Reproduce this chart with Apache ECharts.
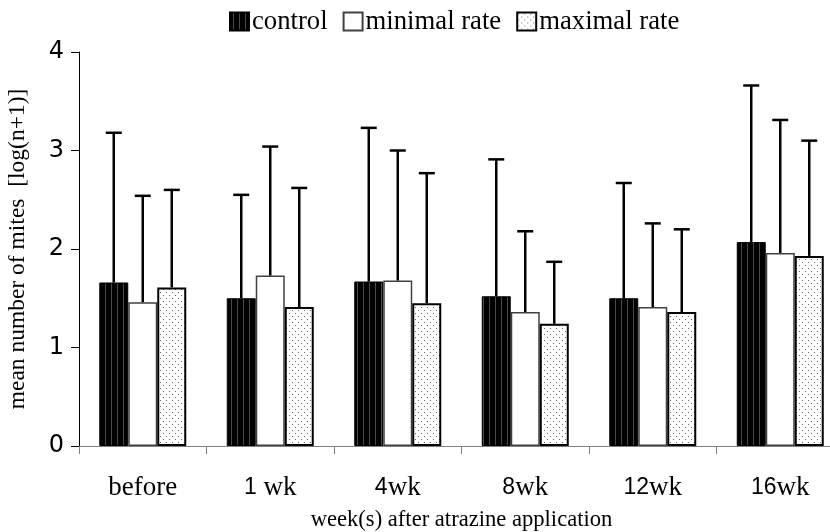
<!DOCTYPE html>
<html>
<head>
<meta charset="utf-8">
<script src="https://cdn.jsdelivr.net/npm/echarts@6/dist/echarts.min.js"></script>
<style>html,body{margin:0;padding:0;background:#fff;}#c{width:830px;height:532px;}</style>
</head>
<body>
<div id="c"></div>
<script>
var categories = ['before', '1 wk', '4wk', '8wk', '12wk', '16wk'];
var seriesNames = ['control', 'minimal rate', 'maximal rate'];
var controlMean = [1.66, 1.50, 1.67, 1.52, 1.50, 2.07];
var controlUpper = [3.18, 2.55, 3.23, 2.91, 2.67, 3.66];
var minimalMean = [1.46, 1.73, 1.68, 1.36, 1.41, 1.96];
var minimalUpper = [2.54, 3.04, 3.00, 2.18, 2.26, 3.31];
var maximalMean = [1.61, 1.41, 1.45, 1.24, 1.36, 1.93];
var maximalUpper = [2.60, 2.62, 2.77, 1.87, 2.20, 3.10];
var yTicks = [0, 1, 2, 3, 4];

function stripePattern() {
  var c = document.createElement('canvas');
  c.width = 6; c.height = 6;
  var g = c.getContext('2d');
  g.fillStyle = '#000'; g.fillRect(0, 0, 6, 6);
  g.fillStyle = '#4a4a4a'; g.fillRect(3, 0, 1, 6);
  return c;
}
function dotPattern() {
  var c = document.createElement('canvas');
  c.width = 6; c.height = 6;
  var g = c.getContext('2d');
  g.fillStyle = '#fff'; g.fillRect(0, 0, 6, 6);
  g.fillStyle = '#6a6a6a';
  g.fillRect(1, 1, 1, 1);
  g.fillRect(4, 4, 1, 1);
  return c;
}

var BW = 29;
var serif = '"Liberation Serif", "DejaVu Serif", serif';
var narrow = '"Liberation Sans Narrow", "Liberation Sans", sans-serif';
var sans = '"DejaVu Sans", Verdana, sans-serif';

function errSeries(means, uppers, offset) {
  var data = means.map(function (m, i) { return [i, m, uppers[i]]; });
  return {
    type: 'custom',
    silent: true,
    z: 5,
    data: data,
    renderItem: function (params, api) {
      var top = api.coord([api.value(0), api.value(2)]);
      var base = api.coord([api.value(0), api.value(1)]);
      var x = top[0] + offset;
      return {
        type: 'group',
        children: [
          { type: 'line', shape: { x1: x, y1: base[1], x2: x, y2: top[1] }, style: { stroke: '#000', lineWidth: 2.5 } },
          { type: 'line', shape: { x1: x - 8, y1: top[1], x2: x + 8, y2: top[1] }, style: { stroke: '#000', lineWidth: 2.5 } }
        ]
      };
    }
  };
}

var chart = echarts.init(document.getElementById('c'), null, { renderer: 'canvas' });
chart.setOption({
  animation: false,
  backgroundColor: '#fff',
  legend: {
    data: seriesNames,
    top: 8,
    left: 229,
    padding: 0,
    icon: 'rect',
    itemWidth: 19,
    itemHeight: 18,
    itemGap: 15,
    textStyle: { fontFamily: serif, fontSize: 26.7, color: '#000', padding: [0, 0, 0, -2] }
  },
  grid: { left: 79, top: 52, width: 765, height: 394, outerBoundsMode: 'none' },
  xAxis: {
    type: 'category',
    data: categories,
    name: 'week(s) after atrazine application',
    nameLocation: 'middle',
    nameGap: 63,
    nameTextStyle: { fontFamily: serif, fontSize: 22.6, color: '#000' },
    axisLine: { lineStyle: { color: '#808080', width: 1 } },
    axisTick: { show: true, length: 8, lineStyle: { color: '#808080' }, alignWithLabel: false },
    axisLabel: {
      margin: 28,
      formatter: function (v) {
        var m = v.match(/^(\d+)(\s?)(wk)$/);
        if (m) return '{n|' + m[1] + '}{t|' + m[2] + m[3] + '}';
        return '{t|' + v + '}';
      },
      rich: {
        n: { fontFamily: narrow, fontSize: 23, color: '#000' },
        t: { fontFamily: serif, fontSize: 27, color: '#000' }
      }
    }
  },
  yAxis: {
    type: 'value',
    min: 0, max: 4, interval: 1,
    name: 'mean number of mites  [log(n+1)]',
    nameLocation: 'middle',
    nameGap: 49,
    nameTextStyle: { fontFamily: serif, fontSize: 23.5, color: '#000' },
    axisLine: { show: true, lineStyle: { color: '#000', width: 1 } },
    axisTick: { show: true, length: 8, lineStyle: { color: '#000' } },
    axisLabel: {
      margin: 15,
      fontFamily: sans, fontSize: 24, color: '#000',
      formatter: function (v) { return yTicks.indexOf(v) >= 0 ? String(v) : ''; }
    },
    splitLine: { show: false }
  },
  series: [
    {
      name: seriesNames[0], type: 'bar', data: controlMean, barWidth: BW, barGap: '0%',
      itemStyle: { color: { image: stripePattern(), repeat: 'repeat' }, borderColor: '#000', borderWidth: 1 }
    },
    {
      name: seriesNames[1], type: 'bar', data: minimalMean, barWidth: BW, barGap: '0%',
      itemStyle: { color: '#fff', borderColor: '#404040', borderWidth: 1.5 }
    },
    {
      name: seriesNames[2], type: 'bar', data: maximalMean, barWidth: BW, barGap: '0%',
      itemStyle: { color: { image: dotPattern(), repeat: 'repeat' }, borderColor: '#000', borderWidth: 2 }
    },
    errSeries(controlMean, controlUpper, -BW),
    errSeries(minimalMean, minimalUpper, 0),
    errSeries(maximalMean, maximalUpper, BW)
  ]
});
</script>
</body>
</html>
